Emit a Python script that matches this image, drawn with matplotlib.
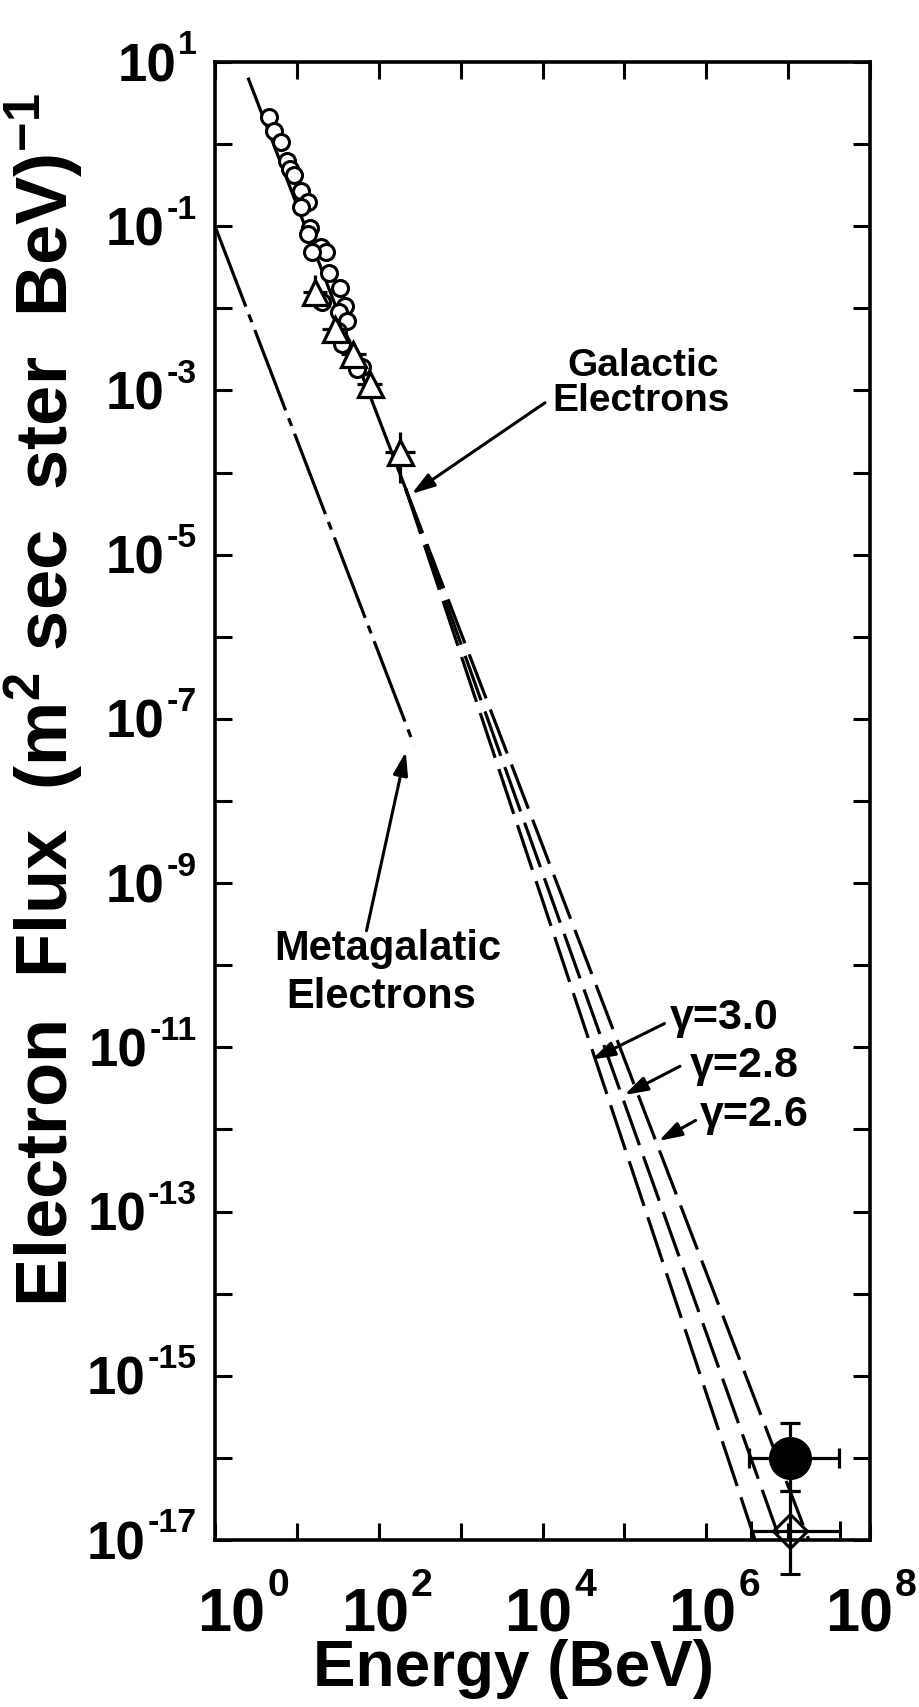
import numpy as np
import matplotlib
matplotlib.use("Agg")
import matplotlib.pyplot as plt
import matplotlib.transforms as mtransforms
from matplotlib.font_manager import FontProperties
from matplotlib.ticker import FixedLocator, NullLocator

plt.rcParams['font.family'] = ['Liberation Sans', 'DejaVu Sans']
plt.rcParams['font.weight'] = 'bold'
plt.rcParams['mathtext.fontset'] = 'custom'
plt.rcParams['mathtext.rm'] = 'Liberation Sans:bold'
plt.rcParams['mathtext.it'] = 'Liberation Sans:bold'
plt.rcParams['mathtext.bf'] = 'Liberation Sans:bold'
plt.rcParams['mathtext.default'] = 'rm'
plt.rcParams['lines.scale_dashes'] = False

# data, as log10(energy / BeV) and log10(flux)
circle_logE = [0.66, 0.72, 0.81, 0.88, 0.92, 0.97, 1.05, 1.13, 1.05, 1.16, 1.13, 1.29,
               1.35, 1.19, 1.39, 1.53, 1.59, 1.52, 1.61, 1.50, 1.55, 1.80, 1.74, 1.31]
circle_logF = [0.33, 0.16, 0.02, -0.21, -0.30, -0.38, -0.57, -0.70, -0.76, -1.02, -1.09, -1.25,
               -1.31, -1.31, -1.57, -1.75, -1.97, -2.04, -2.15, -2.27, -2.43, -2.71, -2.74, -1.92]

tri_logE = [1.22, 1.46, 1.69, 1.89, 2.26]
tri_logF = [-1.80, -2.25, -2.56, -2.92, -3.75]
tri_dx = [0.15, 0.15, 0.15, 0.15, 0.18]
tri_dy_lo = [0.20, 0.15, 0.15, 0.15, 0.38]
tri_dy_hi = [0.20, 0.15, 0.15, 0.15, 0.25]

high_logE = 7.02
dot_logF = -16.0
dot_dx = (0.50, 0.60)
dot_dy = (0.40, 0.42)
dia_logF = -16.89
dia_dx = (0.47, 0.61)
dia_dy = (0.52, 0.49)

# power laws
split_logE, split_logF = 2.33, -4.20
galactic_start_logE = 0.41
galactic_gamma = 2.6
gammas = [3.0, 2.8, 2.6]
gamma_labels = ['γ=3.0', 'γ=2.8', 'γ=2.6']
meta_logF0 = -1.0
meta_gamma = 2.6
meta_end_logE = 2.43

xlabel_exps = [0, 2, 4, 6, 8]
xlabel_nudge = [20, 0, 0, 0, 0]   # px, the first number sits a bit right in the original
ylabel_exps = [1, -1, -3, -5, -7, -9, -11, -13, -15, -17]


def pw(logE, gamma):
    return 10 ** (split_logF - gamma * (np.asarray(logE) - split_logE))


def errs(logv, lo, hi):
    logv = np.asarray(logv, dtype=float)
    v = 10 ** logv
    return v, [v - 10 ** (logv - np.asarray(lo)), 10 ** (logv + np.asarray(hi)) - v]


fig = plt.figure(figsize=(9.2, 17.07), dpi=100)
ax = fig.add_axes([215 / 920, 1 - 1540 / 1707, 655 / 920, 1478 / 1707])
ax.set_xscale('log')
ax.set_yscale('log')
ax.set_xlim(1, 1e8)
ax.set_ylim(1e-17, 10)

LW = 2.3
# galactic line: solid part, then the three dashed branches
ge = np.array([galactic_start_logE, split_logE])
ax.plot(10 ** ge, pw(ge, galactic_gamma), color='k', lw=LW, zorder=2)
for g in gammas:
    le = np.array([split_logE, 8.0])
    ax.plot(10 ** le, pw(le, g), color='k', lw=LW, dashes=(34, 8.5), zorder=2)

# metagalactic line
me = np.array([0.0, meta_end_logE])
ax.plot(10 ** me, 10 ** (meta_logF0 - meta_gamma * me), color='k', lw=LW,
        dashes=(62, 6, 6, 6), zorder=2)

# circles
ax.plot(10 ** np.array(circle_logE), 10 ** np.array(circle_logF), 'o', ms=11.5,
        mfc='white', mec='k', mew=2.2, zorder=3)

# triangles
tE, txe = errs(tri_logE, tri_dx, tri_dx)
tF, tye = errs(tri_logF, tri_dy_lo, tri_dy_hi)
ax.errorbar(tE, tF, xerr=txe, yerr=tye, fmt='^', ms=18, mfc='white', mec='k', mew=2.3,
            ecolor='k', elinewidth=LW, capsize=0, zorder=4)

# high energy points
dE, dxe = errs([high_logE], [dot_dx[0]], [dot_dx[1]])
dF, dye = errs([dot_logF], [dot_dy[0]], [dot_dy[1]])
c1 = ax.errorbar(dE, dF, xerr=dxe, yerr=dye, fmt='o', ms=30, mfc='k', mec='k',
                 ecolor='k', elinewidth=LW, capsize=7, capthick=LW, zorder=4)
aE, axe_ = errs([high_logE], [dia_dx[0]], [dia_dx[1]])
aF, aye = errs([dia_logF], [dia_dy[0]], [dia_dy[1]])
c2 = ax.errorbar(aE, aF, xerr=axe_, yerr=aye, fmt='D', ms=17, mfc='none', mec='k', mew=2.2,
                 ecolor='k', elinewidth=LW, capsize=7, capthick=LW, zorder=4)
for cont in (c1, c2):
    for art in cont.get_children():
        art.set_clip_on(False)

# axes styling
for s in ax.spines.values():
    s.set_linewidth(2.6)
ax.xaxis.set_major_locator(FixedLocator([10.0 ** k for k in range(0, 9)]))
ax.yaxis.set_major_locator(FixedLocator([10.0 ** k for k in range(-17, 2)]))
ax.xaxis.set_minor_locator(NullLocator())
ax.yaxis.set_minor_locator(NullLocator())
ax.tick_params(which='major', direction='in', length=12, width=2.2, top=True, right=True,
               labelleft=False, labelbottom=False)

# tick numbers: "10" with a raised exponent
renderer = fig.canvas.get_renderer()


def tfont(size):
    return FontProperties(family='Liberation Sans', weight='bold', size=size)


def width_px(s, prop):
    w, h, d = renderer.get_text_width_height_descent(s, prop, ismath=False)
    return w


def exp_str(k):
    return ('-' + str(-k)) if k < 0 else str(k)


SUP = 0.64
gap = 2.0

# y axis numbers
ys = 38
ypad = 18
fy_main, fy_sup = tfont(ys), tfont(ys * SUP)
Hy = 0.72 * ys * 100 / 72.0
ytr = mtransforms.blended_transform_factory(ax.transAxes, ax.transData)
for k in ylabel_exps:
    e = exp_str(k)
    we = width_px(e, fy_sup)
    ax.annotate(e, xy=(0, 10.0 ** k), xycoords=ytr, xytext=(-ypad, 0.2 * Hy),
                textcoords='offset pixels', ha='right', va='baseline', fontproperties=fy_sup,
                annotation_clip=False)
    ax.annotate('10', xy=(0, 10.0 ** k), xycoords=ytr, xytext=(-ypad - we - gap, -0.5 * Hy),
                textcoords='offset pixels', ha='right', va='baseline', fontproperties=fy_main,
                annotation_clip=False)

# x axis numbers
xs = 44
fx_main, fx_sup = tfont(xs), tfont(xs * SUP)
Hx = 0.72 * xs * 100 / 72.0
xtr = mtransforms.blended_transform_factory(ax.transData, ax.transAxes)
w10 = width_px('10', fx_main)
for k, nudge in zip(xlabel_exps, xlabel_nudge):
    e = exp_str(k)
    we = width_px(e, fx_sup)
    W = w10 + gap + we
    tick_px = ax.transData.transform((10.0 ** k, 1.0))[0]
    left = min(8 + nudge - W / 2, (fig.bbox.width - 3) - tick_px - W)
    ax.annotate('10', xy=(10.0 ** k, 0), xycoords=xtr, xytext=(left, -47 - Hx),
                textcoords='offset pixels', ha='left', va='baseline', fontproperties=fx_main,
                annotation_clip=False)
    ax.annotate(e, xy=(10.0 ** k, 0), xycoords=xtr, xytext=(left + w10 + gap, -47 - 0.2 * Hx),
                textcoords='offset pixels', ha='left', va='baseline', fontproperties=fx_sup,
                annotation_clip=False)

ax.set_xlabel('Energy (BeV)', fontsize=46, fontweight='bold', va='center')
ax.xaxis.set_label_coords(0.456, -0.087)
ax.set_ylabel(r'Electron  Flux  (m$^2$ sec  ster  BeV)$^{-1}$', fontsize=52,
              fontweight='bold', ha='center', va='center', rotation=90, rotation_mode='default')
ax.yaxis.set_label_coords(-0.262, 0.568)

# annotations
arrow = dict(arrowstyle='-|>,head_length=0.7,head_width=0.22', color='k', lw=2.2,
             mutation_scale=20, shrinkA=0, shrinkB=0)
ax.text(10 ** 5.23, 10 ** -2.70, 'Galactic', fontsize=28, ha='center', va='center')
ax.text(10 ** 5.20, 10 ** -3.13, 'Electrons', fontsize=28, ha='center', va='center')
ax.annotate('', xy=(10 ** 2.40, 10 ** -4.26), xytext=(10 ** 4.03, 10 ** -3.15), arrowprops=arrow)

ax.text(10 ** 2.11, 10 ** -9.80, 'Metagalatic', fontsize=30, ha='center', va='center')
ax.text(10 ** 2.03, 10 ** -10.39, 'Electrons', fontsize=30, ha='center', va='center')
ax.annotate('', xy=(10 ** 2.33, 10 ** -7.40), xytext=(10 ** 1.85, 10 ** -9.58), arrowprops=arrow)

g_text = [(6.22, -10.64), (6.46, -11.23), (6.59, -11.83)]
g_tail = [(5.49, -10.71), (5.68, -11.23), (5.87, -11.89)]
g_head = [(4.60, -11.15), (5.00, -11.58), (5.42, -12.14)]
for lab, t, tl, hd in zip(gamma_labels, g_text, g_tail, g_head):
    ax.text(10 ** t[0], 10 ** t[1], lab, fontsize=31, ha='center', va='center')
    ax.annotate('', xy=(10 ** hd[0], 10 ** hd[1]), xytext=(10 ** tl[0], 10 ** tl[1]),
                arrowprops=arrow)

fig.savefig('out.png', dpi=100)
